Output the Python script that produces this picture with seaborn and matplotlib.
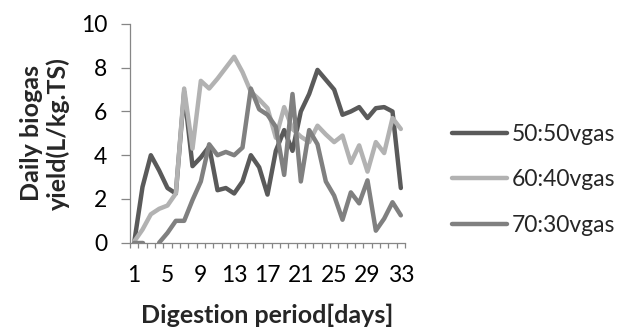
import numpy as np
import pandas as pd
import seaborn as sns
import matplotlib
matplotlib.use("Agg")
import matplotlib.pyplot as plt
from matplotlib.ticker import FixedLocator

# Daily biogas yield (L/kg.TS) per digestion day for three mixing ratios
days = list(range(1, 34))
yield_50_50 = [0, 2.55, 4.0, 3.3, 2.5, 2.25, 6.9, 3.5, 3.9, 4.4, 2.4, 2.5, 2.25, 2.8,
               4.0, 3.45, 2.2, 4.2, 5.15, 4.2, 6.0, 6.8, 7.9, 7.45, 7.0, 5.85, 6.0,
               6.2, 5.7, 6.15, 6.2, 6.0, 2.5]
yield_60_40 = [0.05, 0.6, 1.3, 1.55, 1.7, 2.25, 7.05, 4.3, 7.4, 7.05, 7.5, 8.0, 8.5,
               7.8, 6.9, 6.55, 6.15, 4.8, 6.2, 5.2, 4.85, 4.6, 5.35, 4.95, 4.6, 4.9,
               3.65, 4.45, 3.25, 4.6, 4.1, 5.7, 5.2]
yield_70_30 = [0, 0, np.nan, 0, 0.45, 1.0, 1.0, 1.95, 2.8, 4.5, 4.0, 4.15, 4.0, 4.35,
               7.05, 6.1, 5.85, 5.3, 3.1, 6.8, 2.8, 5.15, 4.5, 2.8, 2.15, 1.05, 2.3,
               1.8, 2.85, 0.55, 1.1, 1.85, 1.25]
series_names = ["50:50vgas", "60:40vgas", "70:30vgas"]
series_colors = ["#5A5A5A", "#B2B2B2", "#808080"]
x_tick_days = [1, 5, 9, 13, 17, 21, 25, 29, 33]
y_ticks = [0, 2, 4, 6, 8, 10]

# Long table; a missing day starts a new segment so the line shows a gap
frames = []
for name, vals in zip(series_names, [yield_50_50, yield_60_40, yield_70_30]):
    v = np.array(vals, dtype=float)
    seg = np.cumsum(np.isnan(v))
    frames.append(pd.DataFrame({"day": days, "yield": v, "mix": name, "seg": seg}))
df = pd.concat(frames, ignore_index=True).dropna()

sns.set_style("ticks")
plt.rcParams["font.family"] = ["Lato", "DejaVu Sans"]

fig = plt.figure(figsize=(6.21, 3.31), dpi=100)
ax = fig.add_axes([130 / 621, 1 - 242.7 / 331, 275 / 621, 218.7 / 331])

sns.lineplot(data=df, x="day", y="yield", hue="mix", units="seg", estimator=None,
             hue_order=series_names, palette=series_colors, linewidth=3.2,
             solid_capstyle="round", solid_joinstyle="round", ax=ax, legend=False)

axis_gray = "#868686"
tick_size = 16.5
label_size = 18
ax.set_xlim(0.5, 33.5)
ax.set_ylim(0, 10)
ax.set_yticks(y_ticks)
ax.set_xticks(x_tick_days)
ax.xaxis.set_minor_locator(FixedLocator(np.arange(0.5, 34, 1)))
ax.tick_params(axis="x", which="major", length=0, pad=16, labelsize=tick_size, colors="black")
ax.tick_params(axis="x", which="minor", length=3.8, width=0.9, color=axis_gray, direction="out")
ax.tick_params(axis="y", which="major", length=6.5, width=0.9, color=axis_gray,
               direction="out", pad=10, labelsize=tick_size, labelcolor="black")
sns.despine(ax=ax)
for side in ["left", "bottom"]:
    ax.spines[side].set_color(axis_gray)
    ax.spines[side].set_linewidth(0.9)

ax.set_xlabel("Digestion period[days]", fontsize=label_size, fontweight="bold")
ax.xaxis.set_label_coords(0.5, -0.28)
ax.xaxis.label.set_verticalalignment("top")
ax.set_ylabel("Daily biogas\nyield(L/kg.TS)", fontsize=label_size, fontweight="bold",
              linespacing=1.15)
ax.yaxis.set_label_coords(-0.22, 0.5)

handles = [plt.Line2D([], [], color=c, linewidth=3.2, solid_capstyle="round")
           for c in series_colors]
fig.legend(handles, series_names, loc="center left",
           bbox_to_anchor=(451.7 / 621, 1 - 180 / 331), bbox_transform=fig.transFigure,
           frameon=False, fontsize=tick_size, handlelength=2.4, handletextpad=0.2,
           labelspacing=1.05, borderpad=0, borderaxespad=0)

fig.savefig("out.png", dpi=100, facecolor="white")
